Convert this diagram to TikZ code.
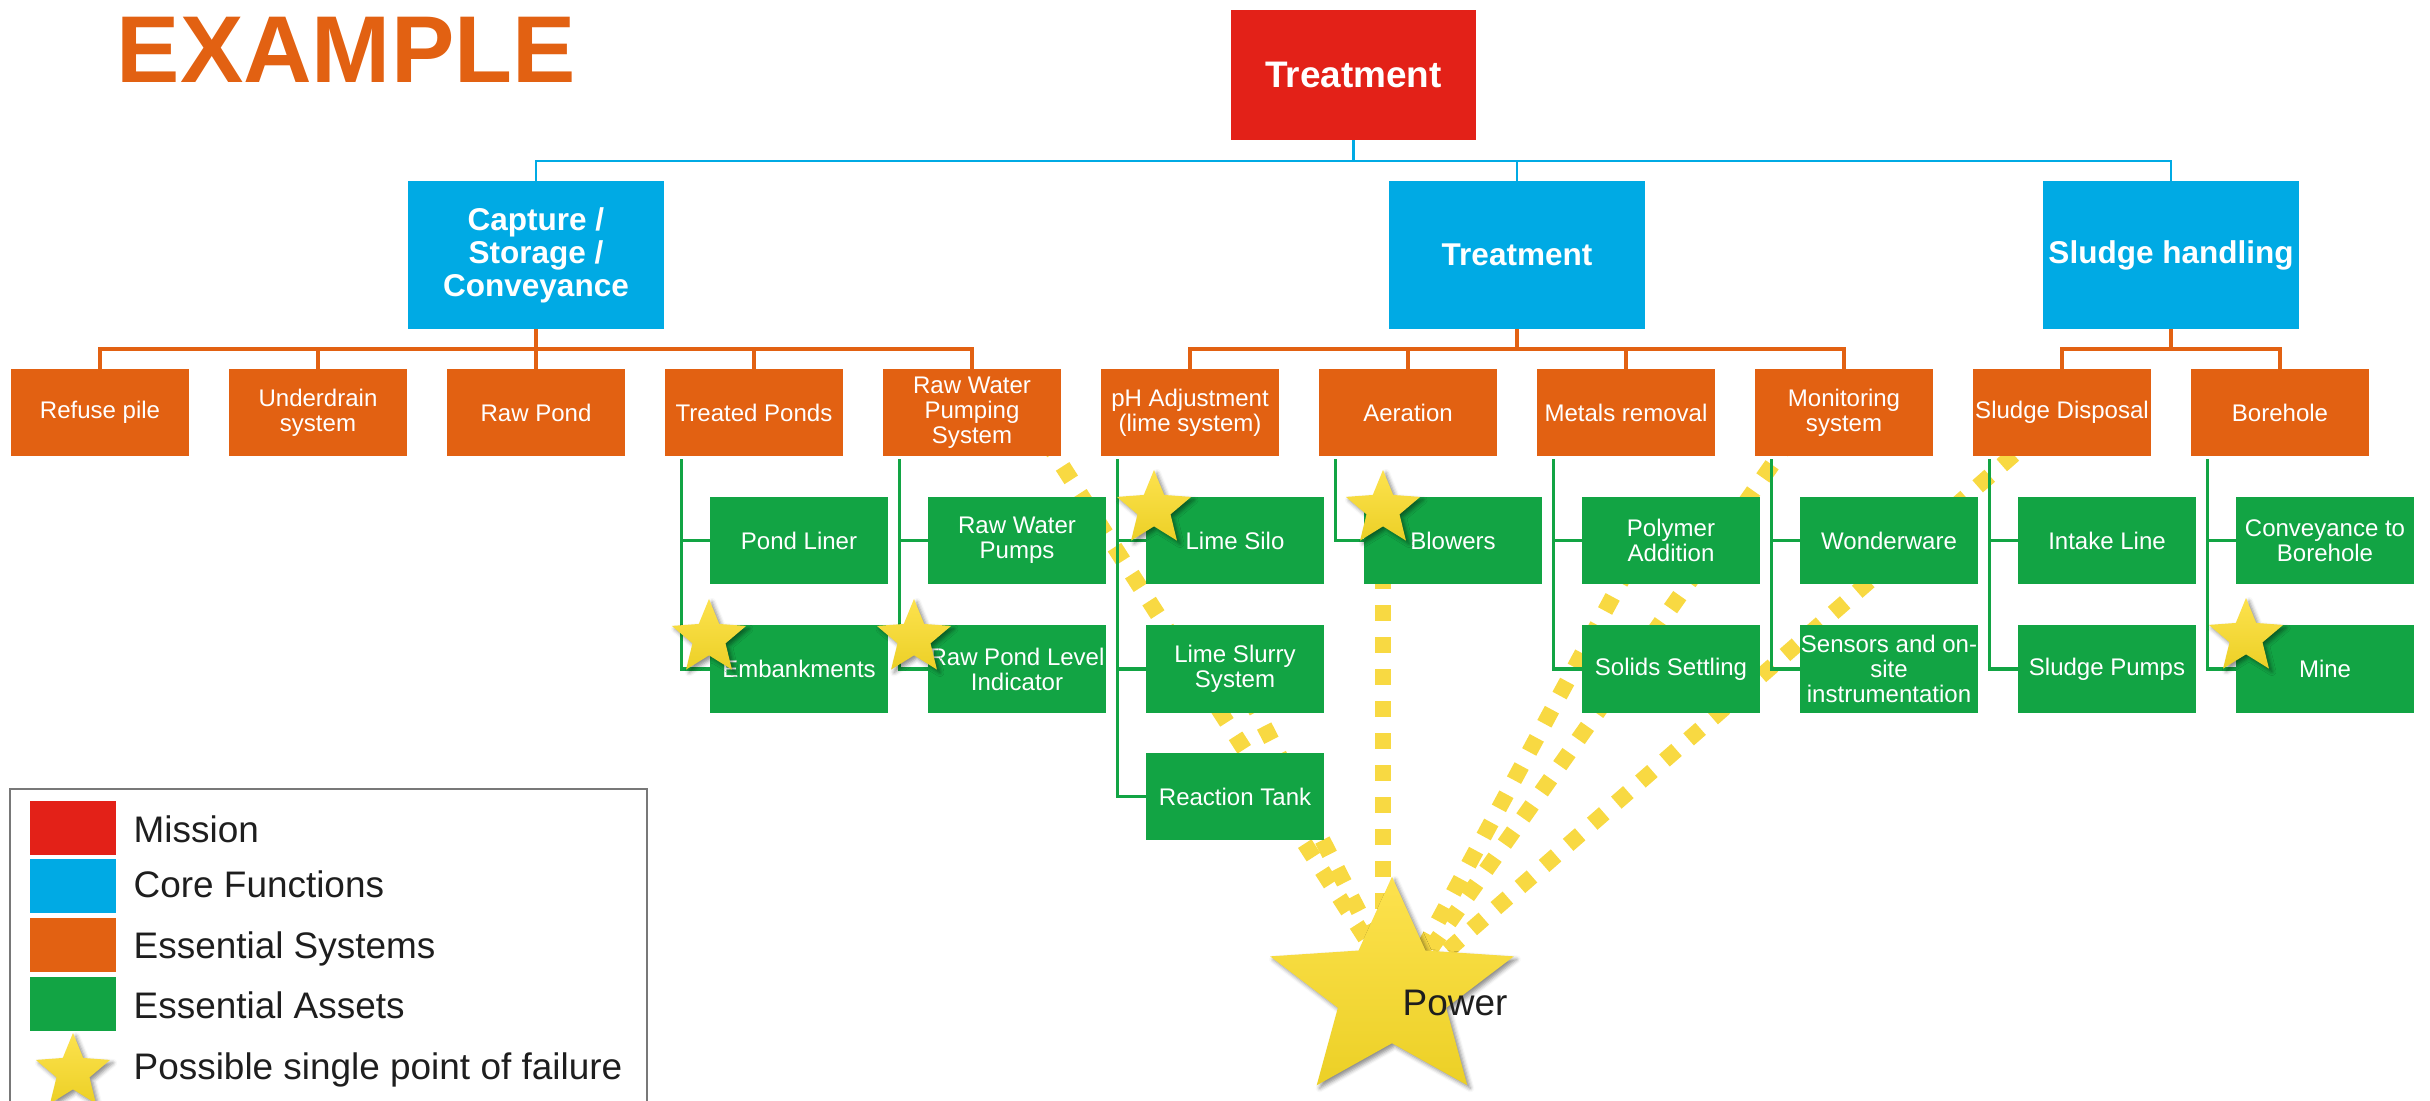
\documentclass[tikz,border=0pt]{standalone}
\usepackage{fontspec}
\setmainfont{Liberation Sans}
\usetikzlibrary{shapes.geometric, shadows.blur, calc}

\definecolor{cRed}{RGB}{227,33,24}
\definecolor{cBlue}{RGB}{0,170,228}
\definecolor{cOrange}{RGB}{226,97,18}
\definecolor{cGreen}{RGB}{18,164,68}
\definecolor{cDash}{RGB}{248,217,66}
\definecolor{starTop}{RGB}{253,226,78}
\definecolor{starBot}{RGB}{236,208,38}
\definecolor{frameGray}{RGB}{120,120,120}
\definecolor{inkDark}{RGB}{30,30,30}

\pgfdeclarelayer{dashes}
\pgfdeclarelayer{links}
\pgfsetlayers{dashes,links,main}

\tikzset{
  box/.style={rectangle, inner sep=0pt, outer sep=0pt, align=center, text=white},
  missionbox/.style={box, fill=cRed, minimum width=2.45cm, minimum height=1.30cm,
    font=\bfseries\fontsize{10.5}{11}\selectfont},
  corebox/.style={box, fill=cBlue, minimum width=2.56cm, minimum height=1.48cm,
    font=\bfseries\fontsize{8.96}{9.4}\selectfont},
  sysbox/.style={box, fill=cOrange, minimum width=1.77cm, minimum height=0.87cm,
    font=\fontsize{6.83}{7.1}\selectfont},
  assetbox/.style={box, fill=cGreen, minimum width=1.77cm, minimum height=0.87cm,
    font=\fontsize{6.83}{7.1}\selectfont},
  spof/.style={star, star points=5, star point ratio=2.25, inner sep=0pt, outer sep=0pt,
    minimum size=0.78cm, top color=starTop, bottom color=starBot, draw=none,
    blur shadow={shadow xshift=0.03cm, shadow yshift=-0.03cm, shadow blur radius=0.04cm, shadow opacity=45}},
  bluelink/.style={draw=cBlue, line width=0.6pt},
  orangelink/.style={draw=cOrange, line width=0.9pt},
  greenlink/.style={draw=cGreen, line width=0.9pt},
  powerline/.style={draw=cDash, line width=0.16cm, dash pattern=on 0.16cm off 0.16cm},
  legendtext/.style={anchor=base west, inner sep=0pt, text=inkDark, font=\fontsize{10.5}{12}\selectfont},
  swatch/.style={rectangle, inner sep=0pt, outer sep=0pt, anchor=north west, minimum width=0.86cm, minimum height=0.54cm},
}

\begin{document}
\begin{tikzpicture}[x=0.01cm, y=-0.01cm]
\useasboundingbox (0,0) rectangle (2430,1101);

% title
\node[anchor=base west, inner sep=0pt, text=cOrange, font=\bfseries\fontsize{27}{30}\selectfont] (title) at (116,83) {EXAMPLE};

% mission and core functions
\node[missionbox] (mission) at (1353.5,75) {Treatment};
\node[corebox] (capture) at (536,255) {Capture /\\Storage /\\Conveyance};
\node[corebox] (treat) at (1517,255) {Treatment};
\node[corebox] (sludge) at (2171,255) {Sludge handling};

% essential systems
\node[sysbox] (refuse)     at (100,412.5)  {Refuse pile};
\node[sysbox] (underdrain) at (318,412.5)  {Underdrain\\system};
\node[sysbox] (rawpond)    at (536,412.5)  {Raw Pond};
\node[sysbox] (treated)    at (754,412.5)  {Treated Ponds};
\node[sysbox] (rawpump)    at (972,412.5)  {Raw Water\\Pumping\\System};
\node[sysbox] (phadj)      at (1190,412.5) {pH Adjustment\\(lime system)};
\node[sysbox] (aeration)   at (1408,412.5) {Aeration};
\node[sysbox] (metals)     at (1626,412.5) {Metals removal};
\node[sysbox] (monitor)    at (1844,412.5) {Monitoring\\system};
\node[sysbox] (sdisp)      at (2062,412.5) {Sludge Disposal};
\node[sysbox] (borehole)   at (2280,412.5) {Borehole};

% essential assets
\node[assetbox] (liner)     at (799,540.5)  {Pond Liner};
\node[assetbox] (embank)    at (799,669)    {Embankments};
\node[assetbox] (rwpumps)   at (1017,540.5) {Raw Water\\Pumps};
\node[assetbox] (pondlevel) at (1017,669)   {Raw Pond Level\\Indicator};
\node[assetbox] (limesilo)  at (1235,540.5) {Lime Silo};
\node[assetbox] (slurry)    at (1235,669)   {Lime Slurry\\System};
\node[assetbox] (rtank)     at (1235,796.5) {Reaction Tank};
\node[assetbox] (blowers)   at (1453,540.5) {Blowers};
\node[assetbox] (polymer)   at (1671,540.5) {Polymer\\Addition};
\node[assetbox] (solids)    at (1671,669)   {Solids Settling};
\node[assetbox] (wonder)    at (1889,540.5) {Wonderware};
\node[assetbox] (sensors)   at (1889,669)   {Sensors and on-\\site\\instrumentation};
\node[assetbox] (intake)    at (2107,540.5) {Intake Line};
\node[assetbox] (spumps)    at (2107,669)   {Sludge Pumps};
\node[assetbox] (convey)    at (2325,540.5) {Conveyance to\\Borehole};
\node[assetbox] (mine)      at (2325,669)   {Mine};

% single points of failure
\node[spof] (sEmb)   at (709,638)  {};
\node[spof] (sLevel) at (914,638)  {};
\node[spof] (sSilo)  at (1154,509) {};
\node[spof] (sBlow)  at (1383,509) {};
\node[spof] (sMine)  at (2246,637) {};

% the shared power supply
\begin{scope}[shift={(1392,992)}, yscale=0.9]
  \node[spof, minimum size=2.56cm, transform shape] (power) at (0,0) {};
\end{scope}
\node[anchor=base west, inner sep=0pt, text=inkDark, font=\fontsize{10.5}{12}\selectfont] (powertext) at (1402,1015) {Power};

% legend
\node[draw=frameGray, line width=0.6pt, rectangle, anchor=north west, inner sep=0pt,
      minimum width=6.37cm, minimum height=3.5cm] (legendframe) at (9,788) {};
\node[swatch, fill=cRed]    (lgMission) at (30,801) {};
\node[swatch, fill=cBlue]   (lgCore)    at (30,859) {};
\node[swatch, fill=cOrange] (lgSys)     at (30,918) {};
\node[swatch, fill=cGreen]  (lgAsset)   at (30,977) {};
\node[spof] (lgStar) at (73,1072) {};
\node[legendtext] (ltMission) at (133,843)  {Mission};
\node[legendtext] (ltCore)    at (133,898)  {Core Functions};
\node[legendtext] (ltSys)     at (133,959)  {Essential Systems};
\node[legendtext] (ltAsset)   at (133,1018) {Essential Assets};
\node[legendtext] (ltStar)    at (133,1080) {Possible single point of failure};

% dependencies on power, kept behind the boxes
\begin{pgfonlayer}{dashes}
  \draw[powerline] ($(rawpump.center)+(56,0)$) -- ($(power.center)+(8,0)$);
  \draw[powerline] (slurry.center) -- ($(power.center)+(8,0)$);
  \draw[powerline] (sBlow.center) -- (sBlow.center |- power.center);
  \draw[powerline] ($(polymer.center)+(-28,0)$) -- ($(power.center)+(8,0)$);
  \draw[powerline] ($(monitor.center)+(-35,0)$) -- ($(power.center)+(8,0)$);
  \draw[powerline] (sdisp.center) -- ($(power.center)+(8,0)$);
\end{pgfonlayer}

% hierarchy links
\begin{pgfonlayer}{links}
  % mission to core functions
  \draw[bluelink] (mission.south) -- ++(0,21);
  \draw[bluelink] (capture.north) -- ++(0,-20) -| (sludge.north);
  \draw[bluelink] (treat.north) -- ++(0,-20);

  % core functions to systems
  \draw[orangelink] (capture.south) -- ++(0,20);
  \draw[orangelink] (refuse.north) -- ++(0,-20) -| (rawpump.north);
  \foreach \n in {underdrain,rawpond,treated}
    \draw[orangelink] (\n.north) -- ++(0,-20);
  \draw[orangelink] (treat.south) -- ++(0,20);
  \draw[orangelink] (phadj.north) -- ++(0,-20) -| (monitor.north);
  \foreach \n in {aeration,metals}
    \draw[orangelink] (\n.north) -- ++(0,-20);
  \draw[orangelink] (sludge.south) -- ++(0,20);
  \draw[orangelink] (sdisp.north) -- ++(0,-20) -| (borehole.north);

  % systems to assets
  \foreach \p/\first/\last in {treated/liner/embank, rawpump/rwpumps/pondlevel,
      phadj/limesilo/rtank, metals/polymer/solids, monitor/wonder/sensors,
      sdisp/intake/spumps, borehole/convey/mine}{
    \coordinate (\p-trunk) at ($(\p.south west)+(16,3)$);
    \draw[greenlink] (\p-trunk) |- (\last.west);
    \draw[greenlink] (\p-trunk |- \first.west) -- (\first.west);
  }
  \coordinate (phadj-mid) at ($(phadj.south west)+(16,3)$);
  \draw[greenlink] (slurry.west -| phadj-mid) -- (slurry.west);
  \coordinate (aeration-trunk) at ($(aeration.south west)+(16,3)$);
  \draw[greenlink] (aeration-trunk) |- (blowers.west);
\end{pgfonlayer}
\end{tikzpicture}
\end{document}
